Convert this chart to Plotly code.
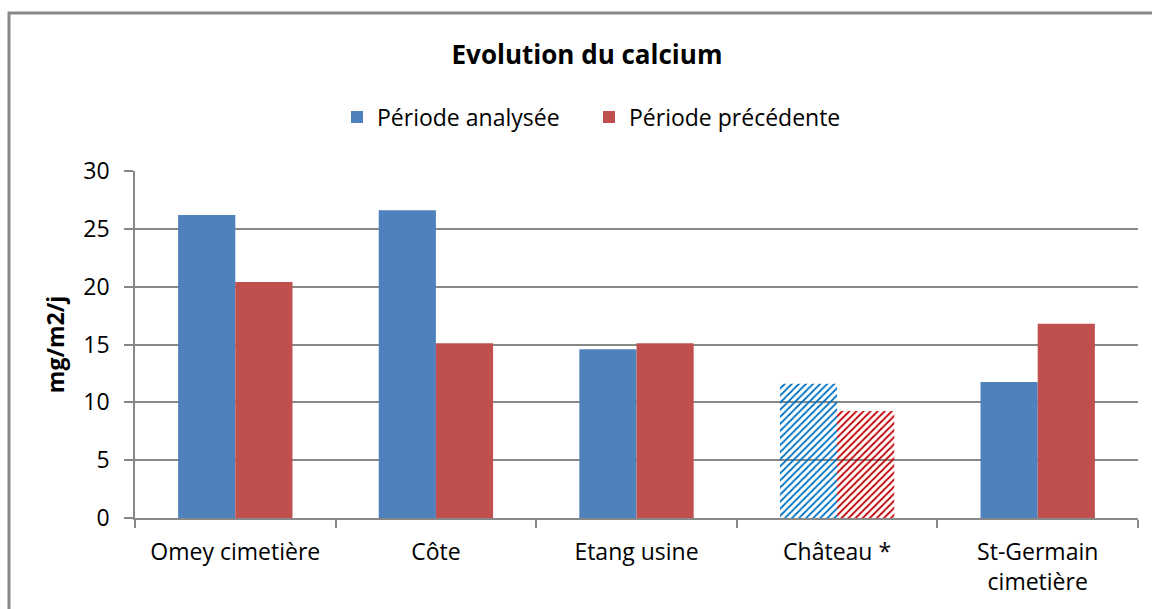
import plotly.graph_objects as go

categories = ["Omey cimetière", "Côte", "Etang usine", "Château *", "St-Germain<br>cimetière"]
analysee = [26.2, 26.6, 14.6, 11.6, 11.75]
precedente = [20.4, 15.1, 15.1, 9.25, 16.8]
hatched = [False, False, False, True, False]

BLUE = "#4F81BD"
RED = "#C0504D"
HBLUE = "#0070C0"
HRED = "#C00000"

W, H = 1152, 609
L, R, T, B = 135, 14, 171, 91
pw, ph = W - L - R, H - T - B

def colors(base, hcol):
    return [hcol if h else base for h in hatched]

def pattern(hcol):
    return dict(
        shape=["/" if h else "" for h in hatched],
        fgcolor=[hcol if h else "rgba(0,0,0,0)" for h in hatched],
        bgcolor="white",
        fillmode="replace",
        size=5,
        solidity=0.35,
    )

fig = go.Figure()
fig.add_trace(go.Bar(
    x=categories, y=analysee, name="Période analysée",
    marker=dict(color=colors(BLUE, HBLUE), line=dict(width=0), pattern=pattern(HBLUE)),
))
fig.add_trace(go.Bar(
    x=categories, y=precedente, name="Période précédente",
    marker=dict(color=colors(RED, HRED), line=dict(width=0), pattern=pattern(HRED)),
))

font = "Open Sans, Noto Sans, DejaVu Sans, sans-serif"

fig.update_layout(
    width=W, height=H,
    margin=dict(l=L, r=R, t=T, b=B, autoexpand=False),
    paper_bgcolor="white", plot_bgcolor="white",
    barmode="group", bargap=0.43, bargroupgap=0,
    font=dict(family=font, size=23, color="#000000"),
    title=dict(text="<b>Evolution du calcium</b>", x=587 / W, xanchor="center",
               xref="container", y=1 - 55 / H, yanchor="middle", yref="container",
               font=dict(size=26, family=font, color="#000000")),
    legend=dict(orientation="h", xref="container", yref="container",
                x=589 / W, xanchor="center", y=1 - 117 / H, yanchor="middle",
                font=dict(size=23), traceorder="normal",
                itemwidth=30, tracegroupgap=0, entrywidth=207, entrywidthmode="pixels"),
    showlegend=True,
    xaxis=dict(
        showline=True, linecolor="#888888", linewidth=1.5,
        ticks="outside", tickson="boundaries", ticklen=8, tickcolor="#888888",
        tickwidth=1.5, showgrid=False, tickfont=dict(size=23),
        ticklabelstandoff=13,
    ),
    yaxis=dict(
        range=[0, 30], dtick=5, tick0=0,
        showline=True, linecolor="#888888", linewidth=1.5,
        ticks="outside", ticklen=9, tickcolor="#888888", tickwidth=1.5,
        showgrid=True, gridcolor="#888888", gridwidth=1.5,
        zeroline=False, tickfont=dict(size=23), ticklabelstandoff=10,
        title=dict(text="<b>mg/m2/j</b>", font=dict(size=23), standoff=12),
    ),
    shapes=[dict(
        type="rect", xref="paper", yref="paper",
        x0=(9 - L) / pw, x1=(W + 20 - L) / pw,
        y0=-(H + 20 - T - ph) / ph, y1=(H - 13 - B) / ph,
        line=dict(color="#888888", width=3), fillcolor="rgba(0,0,0,0)", layer="below",
    )],
)

fig.write_html("out.html", config={"displayModeBar": False},
               post_script="document.body.style.margin='0px';document.body.style.overflow='hidden';")
